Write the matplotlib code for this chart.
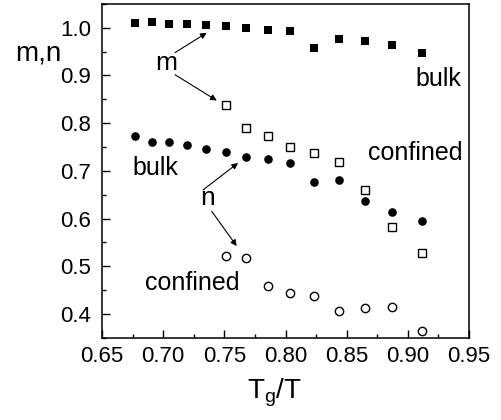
import numpy as np
import matplotlib
matplotlib.use("Agg")
import matplotlib.pyplot as plt
from matplotlib.ticker import MultipleLocator

plt.rcParams["font.family"] = ["Liberation Sans", "DejaVu Sans"]
plt.rcParams["mathtext.fontset"] = "custom"
plt.rcParams["mathtext.rm"] = "Liberation Sans"

# Tg/T values
x_all = [0.677, 0.6906, 0.705, 0.7197, 0.7353, 0.7511, 0.768, 0.7857,
         0.8037, 0.8229, 0.8435, 0.8648, 0.8874, 0.9114]
x_conf = x_all[5:]

m_bulk = [1.010, 1.012, 1.008, 1.007, 1.006, 1.004, 1.000, 0.995,
          0.993, 0.957, 0.976, 0.972, 0.964, 0.948]
n_bulk = [0.773, 0.761, 0.761, 0.755, 0.746, 0.740, 0.730, 0.724,
          0.717, 0.677, 0.681, 0.636, 0.613, 0.594]
m_conf = [0.838, 0.789, 0.774, 0.750, 0.738, 0.718, 0.659, 0.582, 0.528]
n_conf = [0.521, 0.517, 0.458, 0.444, 0.438, 0.407, 0.412, 0.414, 0.365]

fig = plt.figure(figsize=(5.02, 4.2), dpi=100)
ax = fig.add_axes([0.2032, 0.196, 0.7311, 0.7945])

ax.plot(x_all, m_bulk, "s", color="k", ms=6, mew=0)
ax.plot(x_all, n_bulk, "o", color="k", ms=6.2, mew=0)
ax.plot(x_conf, m_conf, "s", mfc="white", mec="k", ms=5.5, mew=1)
ax.plot(x_conf, n_conf, "o", mfc="white", mec="k", ms=6, mew=1)

ax.set_xlim(0.65, 0.95)
ax.set_ylim(0.35, 1.05)
ax.xaxis.set_major_locator(MultipleLocator(0.05))
ax.xaxis.set_minor_locator(MultipleLocator(0.025))
ax.yaxis.set_major_locator(MultipleLocator(0.1))
ax.yaxis.set_minor_locator(MultipleLocator(0.05))
ax.xaxis.set_major_formatter(plt.FormatStrFormatter("%.2f"))
ax.yaxis.set_major_formatter(plt.FormatStrFormatter("%.1f"))
ax.tick_params(which="both", direction="in", top=False, right=False,
               width=1, labelsize=16)
ax.tick_params(which="major", length=6)
ax.tick_params(which="minor", length=3)
ax.tick_params(axis="x", pad=6)
ax.tick_params(axis="y", pad=8)
for s in ax.spines.values():
    s.set_linewidth(1.1)

ax.set_xlabel(r"T$_\mathregular{g}$/T", fontsize=20)
ax.xaxis.set_label_coords(0.47, -0.115)
fig.text(15 / 502, 1 - 61 / 420, "m,n", fontsize=20, ha="left", va="baseline")

arrow = dict(arrowstyle="-|>", lw=0.8, color="k", mutation_scale=9,
             shrinkA=0, shrinkB=0)
ax.text(0.7023, 0.9265, "m", fontsize=19, ha="center", va="center")
ax.annotate("", xy=(0.7356, 0.9896), xytext=(0.7097, 0.948), arrowprops=arrow)
ax.annotate("", xy=(0.7438, 0.8475), xytext=(0.7097, 0.9016), arrowprops=arrow)
ax.text(0.7363, 0.6435, "n", fontsize=19, ha="center", va="center")
ax.annotate("", xy=(0.7612, 0.7164), xytext=(0.7326, 0.660), arrowprops=arrow)
ax.annotate("", xy=(0.7601, 0.5421), xytext=(0.7397, 0.615), arrowprops=arrow)

ax.text(0.694, 0.706, "bulk", fontsize=18, ha="center", va="center")
ax.text(0.7236, 0.4639, "confined", fontsize=18, ha="center", va="center")
ax.text(0.9247, 0.8932, "bulk", fontsize=18, ha="center", va="center")
ax.text(0.906, 0.737, "confined", fontsize=18, ha="center", va="center")

fig.savefig("out.png", dpi=100)
